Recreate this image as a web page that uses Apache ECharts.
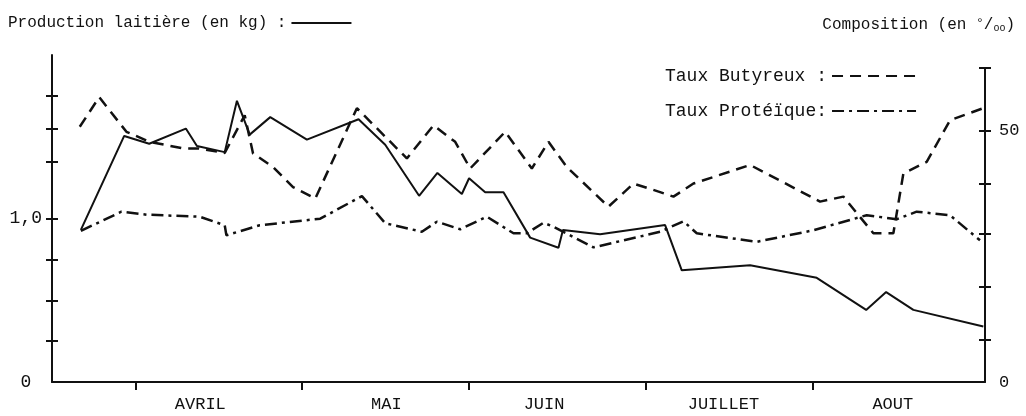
<!DOCTYPE html>
<html>
<head>
<meta charset="utf-8">
<script src="https://cdn.jsdelivr.net/npm/echarts@6/dist/echarts.min.js"></script>
<style>
  html, body { margin: 0; padding: 0; background: #fff; }
  #main { width: 1026px; height: 416px; }
</style>
</head>
<body>
<div id="main"></div>
<script>
// jours depuis le 1er janvier (1er avril = 90)
var production = [
  [80.2, 0.93], [88.0, 1.505], [92.5, 1.457], [99.1, 1.55], [101.1, 1.443],
  [106.1, 1.406], [108.3, 1.72], [110.6, 1.513], [114.3, 1.62], [120.9, 1.482],
  [130.2, 1.607], [135.0, 1.451], [141.1, 1.139], [144.4, 1.279], [148.8, 1.15],
  [150.1, 1.246], [153.0, 1.16], [156.3, 1.16], [161.1, 0.883], [166.2, 0.821],
  [167.0, 0.93], [173.7, 0.903], [185.4, 0.96], [188.4, 0.683], [200.7, 0.714],
  [212.7, 0.637], [221.6, 0.441], [225.2, 0.55], [230.1, 0.441], [242.7, 0.339]
];
var butyreux = [
  [80.0, 50.8], [83.5, 56.7], [88.4, 49.8], [92.6, 47.8], [98.6, 46.5],
  [101.3, 46.5], [106.1, 45.6], [109.7, 53.1], [111.2, 45.5], [114.8, 42.8],
  [118.4, 38.8], [122.4, 36.5], [129.9, 54.5], [138.9, 44.5], [143.7, 51.1],
  [147.6, 47.8], [150.3, 42.5], [156.6, 49.8], [161.4, 42.5], [164.4, 47.8],
  [167.7, 42.8], [175.2, 34.9], [179.7, 39.5], [184.5, 37.8], [186.9, 36.9],
  [190.5, 39.5], [200.7, 43.2], [213.3, 35.9], [217.5, 36.9], [222.9, 29.6],
  [226.5, 29.6], [228.3, 41.5], [232.5, 43.8], [236.7, 52.1], [242.7, 54.5]
];
var proteique = [
  [80.2, 30.1], [87.5, 33.9], [92.1, 33.3], [101.6, 32.9], [106.1, 31.2],
  [106.4, 29.2], [112.4, 31.2], [123.3, 32.5], [130.8, 37.0], [135.0, 31.6],
  [141.6, 29.9], [144.3, 31.9], [148.5, 30.4], [153.3, 32.9], [158.1, 29.6],
  [160.5, 29.6], [163.5, 31.7], [165.3, 30.9], [172.5, 26.8], [184.5, 29.9],
  [188.7, 32.0], [191.1, 29.6], [201.9, 27.9], [212.1, 30.2], [221.7, 33.2],
  [227.1, 32.4], [230.7, 33.9], [236.7, 33.2], [242.1, 28.2]
];
var monthTicks = [90, 120, 150, 182, 212];
var monthLabelPos = [101.7, 135.2, 163.6, 195.9, 226.4];
var monthNames = ['AVRIL', 'MAI', 'JUIN', 'JUILLET', 'AOUT'];
var leftTicks = [0.25, 0.5, 0.75, 1.0, 1.35, 1.55, 1.75];
var leftLabels = [0, 1.0];
var rightTicks = [8.5, 19, 29.5, 39.5, 50, 62.5];
var rightLabels = [0, 50];

var FONT = 'Liberation Mono';
var INK = '#111';

var myChart = echarts.init(document.getElementById('main'));

function xAxisFor(grid, visible) {
  return {
    type: 'value', gridIndex: grid, min: 75, max: 243,
    show: visible,
    splitLine: { show: false },
    axisLine: { show: visible, lineStyle: { color: INK, width: 2 } },
    axisTick: { show: visible, customValues: monthTicks, length: 8, lineStyle: { color: INK, width: 2 } },
    axisLabel: {
      show: visible, customValues: monthLabelPos, margin: 14,
      fontFamily: FONT, fontSize: 17, color: INK,
      formatter: function (v) {
        var i = monthLabelPos.indexOf(v);
        return i >= 0 ? monthNames[i] : '';
      }
    }
  };
}

var option = {
  backgroundColor: '#fff',
  animation: false,
  title: [{
    right: 6, top: 12,
    text: '{a|Composition (en }{b|°}{a|/}{c|oo}{a|)}',
    textStyle: {
      fontWeight: 'normal',
      rich: {
        a: { fontFamily: FONT, fontSize: 16, fontWeight: 'normal', color: INK, verticalAlign: 'middle' },
        b: { fontFamily: FONT, fontSize: 13, fontWeight: 'normal', color: INK, verticalAlign: 'top' },
        c: { fontFamily: FONT, fontSize: 10, fontWeight: 'normal', color: INK, verticalAlign: 'bottom' }
      }
    }
  }],
  legend: [{
    data: ['Production laitière (en kg) :'],
    left: 8, top: 15, padding: 0,
    align: 'right',
    itemWidth: 60, itemHeight: 14,
    itemStyle: { opacity: 0 },
    textStyle: { fontFamily: FONT, fontSize: 16, color: INK }
  }, {
    data: ['Taux Butyreux :', 'Taux Protéïque:'],
    orient: 'vertical',
    left: 665, top: 67, padding: 0,
    align: 'right',
    itemWidth: 84, itemHeight: 14, itemGap: 17,
    itemStyle: { opacity: 0 },
    textStyle: { fontFamily: FONT, fontSize: 18, color: INK }
  }],
  grid: [
    { left: 52, right: 41, top: 55, bottom: 34 },
    { left: 52, right: 41, top: 68, bottom: 34 }
  ],
  xAxis: [xAxisFor(0, true), xAxisFor(1, false)],
  yAxis: [{
    type: 'value', gridIndex: 0, position: 'left', min: 0, max: 2,
    splitLine: { show: false },
    axisLine: { show: true, lineStyle: { color: INK, width: 2 } },
    axisTick: { show: true, customValues: leftTicks, length: 6, lineStyle: { color: INK, width: 2 } },
    axisLabel: {
      customValues: leftLabels, margin: 10,
      fontFamily: FONT, fontSize: 18, color: INK,
      formatter: function (v) { return v === 0 ? '0 ' : '1,0'; }
    }
  }, {
    type: 'value', gridIndex: 1, position: 'right', min: 0, max: 62.5,
    splitLine: { show: false },
    axisLine: { show: true, lineStyle: { color: INK, width: 2 } },
    axisTick: { show: true, customValues: rightTicks, length: 6, lineStyle: { color: INK, width: 2 } },
    axisLabel: {
      customValues: rightLabels, margin: 14,
      fontFamily: FONT, fontSize: 17, color: INK
    }
  }, {
    // ticks traversants cote interieur (gauche)
    type: 'value', gridIndex: 0, position: 'left', min: 0, max: 2,
    splitLine: { show: false }, axisLine: { show: false },
    axisTick: { show: true, inside: true, customValues: leftTicks, length: 6, lineStyle: { color: INK, width: 2 } },
    axisLabel: { show: false }
  }, {
    type: 'value', gridIndex: 1, position: 'right', min: 0, max: 62.5,
    splitLine: { show: false }, axisLine: { show: false },
    axisTick: { show: true, inside: true, customValues: rightTicks, length: 6, lineStyle: { color: INK, width: 2 } },
    axisLabel: { show: false }
  }],
  series: [{
    name: 'Production laitière (en kg) :',
    type: 'line', xAxisIndex: 0, yAxisIndex: 0,
    data: production, symbol: 'none',
    lineStyle: { color: INK, width: 2 },
    itemStyle: { color: INK }
  }, {
    name: 'Taux Butyreux :',
    type: 'line', xAxisIndex: 1, yAxisIndex: 1,
    data: butyreux, symbol: 'none',
    lineStyle: { color: INK, width: 2.5, type: [11, 7] },
    itemStyle: { color: INK }
  }, {
    name: 'Taux Protéïque:',
    type: 'line', xAxisIndex: 1, yAxisIndex: 1,
    data: proteique, symbol: 'none',
    lineStyle: { color: INK, width: 2.5, type: [12, 5, 3, 5] },
    itemStyle: { color: INK }
  }]
};
myChart.setOption(option);
</script>
</body>
</html>
